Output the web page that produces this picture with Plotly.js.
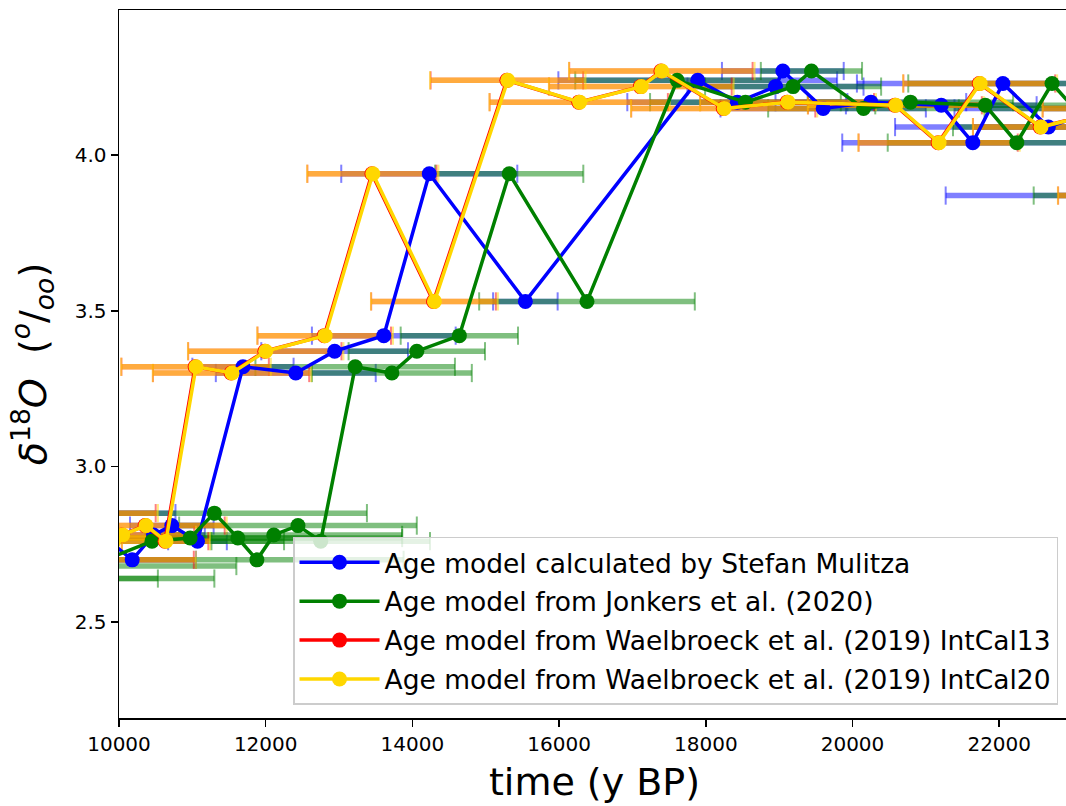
<!DOCTYPE html>
<html>
<head>
<meta charset="utf-8">
<script src="https://cdn.plot.ly/plotly-3.0.1.min.js"></script>
<style>
html, body { margin: 0; padding: 0; overflow: hidden; background: #fff; }
#chart { width: 1080px; height: 806px; }
</style>
</head>
<body>
<div id="chart"></div>
<script>
// ---- Data ----
// Age model calculated by Stefan Mulitza
const ageMulitza = [9400, 9820, 10180, 10470, 10720, 11070, 11690, 12410, 12940, 13610, 14230, 15540, 17890, 18430, 18950, 19050, 19600, 20250, 21210, 21640, 22050, 22670, 23390, 23500];
const d18OMulitza = [2.85, 2.77, 2.70, 2.78, 2.81, 2.76, 3.32, 3.30, 3.37, 3.42, 3.94, 3.53, 4.24, 4.17, 4.22, 4.27, 4.15, 4.17, 4.16, 4.04, 4.23, 4.09, 4.15, 3.87];
const errMulitza = [1370, 800, 870, 700, 570, 400, 690, 1090, 1000, 980, 1200, 440, 1900, 1500, 1200, 830, 1400, 1300, 1300, 1780, 1990, 2090, 2000, 2230];

// Age model from Jonkers et al. (2020)
const ageJonkers = [8800, 9300, 9600, 10450, 10970, 11300, 11620, 11880, 12110, 12440, 12750, 13220, 13720, 14060, 14640, 15320, 16380, 17610, 18540, 19190, 19440, 20150, 20790, 21810, 22240, 22720, 23250, 23600, 24300];
const d18OJonkers = [2.64, 2.64, 2.68, 2.76, 2.77, 2.85, 2.77, 2.70, 2.78, 2.81, 2.76, 3.32, 3.30, 3.37, 3.42, 3.94, 3.53, 4.24, 4.17, 4.22, 4.27, 4.15, 4.17, 4.16, 4.04, 4.23, 4.09, 4.15, 3.87];
const errJonkers = [1730, 2000, 2000, 1800, 1800, 2080, 2240, 2000, 1750, 1620, 1490, 1360, 1090, 930, 800, 1010, 1470, 1390, 1300, 1200, 690, 1300, 1400, 1500, 1760, 1960, 1880, 1800, 1830];

// Age model from Waelbroeck et al. (2019) IntCal13
const ageIntCal13 = [9490, 9740, 9890, 10040, 10356, 10628, 11038, 11528, 11988, 12798, 13448, 14288, 15288, 16268, 17108, 17388, 18238, 19108, 20578, 21168, 21728, 22558, 23578, 23688];
const d18OIntCal13 = [2.85, 2.77, 2.70, 2.78, 2.81, 2.76, 3.32, 3.30, 3.37, 3.42, 3.94, 3.53, 4.24, 4.17, 4.22, 4.27, 4.15, 4.17, 4.16, 4.04, 4.23, 4.09, 4.15, 3.87];
const errIntCal13 = [1010, 885, 1130, 985, 1085, 590, 1005, 1065, 1045, 910, 880, 850, 1040, 1215, 1245, 1250, 1255, 1185, 1185, 1085, 1035, 915, 985, 885];

// Age model from Waelbroeck et al. (2019) IntCal20
const ageIntCal20 = [9500, 9750, 9900, 10050, 10368, 10640, 11050, 11540, 12000, 12810, 13460, 14300, 15300, 16280, 17120, 17400, 18250, 19120, 20590, 21180, 21740, 22570, 23590, 23700];
const d18OIntCal20 = [2.85, 2.77, 2.70, 2.78, 2.81, 2.76, 3.32, 3.30, 3.37, 3.42, 3.94, 3.53, 4.24, 4.17, 4.22, 4.27, 4.15, 4.17, 4.16, 4.04, 4.23, 4.09, 4.15, 3.87];
const errIntCal20 = [1030, 900, 1150, 1000, 1100, 600, 1020, 1080, 1060, 925, 895, 865, 1060, 1230, 1260, 1265, 1270, 1200, 1200, 1100, 1050, 930, 1000, 900];

const seriesNames = [
  'Age model calculated by Stefan Mulitza',
  'Age model from Jonkers et al. (2020)',
  'Age model from Waelbroeck et al. (2019) IntCal13',
  'Age model from Waelbroeck et al. (2019) IntCal20'
];
const xTickVals = [10000, 12000, 14000, 16000, 18000, 20000, 22000];
const yTickVals = [2.5, 3.0, 3.5, 4.0];

// ---- Styling ----
const FONT = 'DejaVu Sans, sans-serif';
const series = [
  {x: ageMulitza, y: d18OMulitza, e: errMulitza, color: 'rgb(0,0,255)', ecol: 'rgba(0,0,255,0.5)'},
  {x: ageJonkers, y: d18OJonkers, e: errJonkers, color: 'rgb(0,128,0)', ecol: 'rgba(0,128,0,0.5)'},
  {x: ageIntCal13, y: d18OIntCal13, e: errIntCal13, color: 'rgb(255,0,0)', ecol: 'rgba(255,0,0,0.5)'},
  {x: ageIntCal20, y: d18OIntCal20, e: errIntCal20, color: 'rgb(255,215,0)', ecol: 'rgba(255,215,0,0.5)'}
];

const traces = [];
// error bars first (below all lines)
series.forEach(s => {
  traces.push({
    type: 'scatter', mode: 'markers', x: s.x, y: s.y,
    marker: {size: 1, opacity: 0},
    error_x: {type: 'data', array: s.e, visible: true, color: s.ecol, thickness: 5.5, width: 0},
    hoverinfo: 'skip', showlegend: false
  });
  const cx = [], cy = [];
  for (let i = 0; i < s.x.length; i++) {
    cx.push(s.x[i] - s.e[i], s.x[i] + s.e[i]);
    cy.push(s.y[i], s.y[i]);
  }
  traces.push({
    type: 'scatter', mode: 'markers', x: cx, y: cy,
    marker: {symbol: 'line-ns', size: 13, color: s.ecol, line: {color: s.ecol, width: 2}},
    hoverinfo: 'skip', showlegend: false
  });
});
// lines + markers
series.forEach((s, i) => {
  traces.push({
    type: 'scatter', mode: 'lines+markers', name: seriesNames[i],
    x: s.x, y: s.y, legendgroup: 'g' + i,
    line: {color: s.color, width: 3.5},
    marker: {color: s.color, size: 15}
  });
});

const layout = {
  width: 1080, height: 806,
  margin: {l: 119, r: 10, t: 10, b: 88},
  paper_bgcolor: '#fff', plot_bgcolor: '#fff',
  font: {family: FONT, color: '#000'},
  showlegend: true,
  legend: {
    x: 0.9874, y: 0.0184, xanchor: 'right', yanchor: 'bottom',
    bgcolor: 'rgba(255,255,255,0.8)', bordercolor: '#cccccc', borderwidth: 1.5,
    font: {family: FONT, size: 26.5, color: '#000'},
    tracegroupgap: 1.5, itemwidth: 80
  },
  xaxis: {
    range: [10000, 22965], tickvals: xTickVals, tickformat: 'd',
    showline: true, mirror: true, linecolor: '#000', linewidth: 1.5,
    ticks: 'outside', ticklen: 7, tickwidth: 1.5, tickcolor: '#000',
    showgrid: false, zeroline: false,
    tickfont: {family: FONT, size: 20},
    title: {text: 'time (y BP)', font: {family: FONT, size: 38}, standoff: 14}
  },
  yaxis: {
    range: [2.192, 4.466], tickvals: yTickVals, tickformat: '.1f',
    showline: true, mirror: true, linecolor: '#000', linewidth: 1.5,
    ticks: 'outside', ticklen: 7, tickwidth: 1.5, tickcolor: '#000',
    showgrid: false, zeroline: false,
    tickfont: {family: FONT, size: 20},
    title: {text: '<i>δ</i><sup>18</sup><i>O</i>  (<sup><i>o</i></sup>/<sub><i>oo</i></sub>)', font: {family: FONT, size: 38}, standoff: 16}
  }
};

Plotly.newPlot('chart', traces, layout, {displayModeBar: false, staticPlot: true});
</script>
</body>
</html>
